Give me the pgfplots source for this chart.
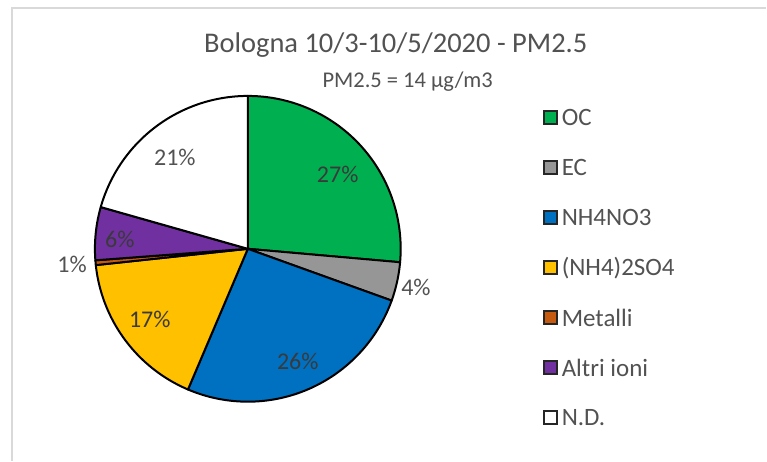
\documentclass[border=0pt]{standalone}
\usepackage{pgfplots}
\pgfplotsset{compat=1.18}
\usepackage{fontspec}
\setmainfont{Carlito}
\definecolor{txt}{HTML}{525252}
\definecolor{txtd}{HTML}{3A3A3A}
\definecolor{cOC}{HTML}{00B050}
\definecolor{cEC}{HTML}{969696}
\definecolor{cNH}{HTML}{0070C0}
\definecolor{cSO}{HTML}{FFC000}
\definecolor{cME}{HTML}{C55A11}
\definecolor{cAI}{HTML}{7030A0}
\definecolor{cND}{HTML}{FFFFFF}
\definecolor{frame}{HTML}{D9D9D9}
% data (percent of PM2.5)
\def\vOC{26.4}
\def\vEC{4.1}
\def\vNH{25.9}
\def\vSO{16.9}
\def\vME{0.5}
\def\vAI{5.6}
\def\vND{20.6}
\pgfmathsetmacro\bA{90}
\pgfmathsetmacro\bB{\bA-3.6*\vOC}
\pgfmathsetmacro\bC{\bB-3.6*\vEC}
\pgfmathsetmacro\bD{\bC-3.6*\vNH}
\pgfmathsetmacro\bE{\bD-3.6*\vSO}
\pgfmathsetmacro\bF{\bE-3.6*\vME}
\pgfmathsetmacro\bG{\bF-3.6*\vAI}
\pgfmathsetmacro\bH{\bG-3.6*\vND}
\newcommand\slice[3]{\filldraw[fill=#1, draw=black, line width=2pt, line join=round] (axis cs:0,0) -- plot[domain=#2:#3, samples=80] ({cos(\x)},{sin(\x)}) -- cycle;}
\newcommand\legsq[3]{%
  \filldraw[fill=#1, draw=black!85, line width=2pt] (544pt,{461pt-#2pt-6.5pt}) rectangle ++(13pt,13pt);
  \node[anchor=west, inner sep=0pt, text=txt, font=\fontsize{25}{28}\selectfont] at (562pt,{461pt-#2pt}) {#3};}
\begin{document}
\begin{tikzpicture}
\fill[white] (0pt,0pt) rectangle (767pt,461pt);
\draw[frame, line width=1.2pt] (12pt,0pt) -- (12pt,453pt) -- (767pt,453pt);
\begin{axis}[
  at={(95pt,59pt)}, anchor=south west,
  scale only axis, width=306pt, height=306pt,
  xmin=-1, xmax=1, ymin=-1, ymax=1,
  hide axis, clip=false]
\slice{cOC}{\bA}{\bB}
\slice{cEC}{\bB}{\bC}
\slice{cNH}{\bC}{\bD}
\slice{cSO}{\bD}{\bE}
\slice{cME}{\bE}{\bF}
\slice{cAI}{\bF}{\bG}
\slice{cND}{\bG}{\bH}
\begin{scope}[every node/.style={font=\fontsize{24}{28}\selectfont, inner sep=0pt}]
\node[text=txtd] at (axis cs:0.588,0.484) {27\%};
\node[text=txt] at (axis cs:1.10,-0.255) {4\%};
\node[text=txtd] at (axis cs:0.327,-0.739) {26\%};
\node[text=txtd] at (axis cs:-0.641,-0.464) {17\%};
\node[text=txt] at (axis cs:-1.15,-0.105) {1\%};
\node[text=txtd] at (axis cs:-0.837,0.059) {6\%};
\node[text=txt] at (axis cs:-0.477,0.595) {21\%};
\end{scope}
\end{axis}
\node[text=txt, font=\fontsize{28.5}{32}\selectfont, inner sep=0pt] at (396pt,416pt) {Bologna 10/3-10/5/2020 - PM2.5};
\node[text=txt, font=\fontsize{22.5}{26}\selectfont, inner sep=0pt] at (408pt,379pt) {PM2.5 = 14 µg/m3};
\legsq{cOC}{118}{OC}
\legsq{cEC}{168}{EC}
\legsq{cNH}{218}{NH4NO3}
\legsq{cSO}{268}{(NH4)2SO4}
\legsq{cME}{318}{Metalli}
\legsq{cAI}{368}{Altri ioni}
\legsq{cND}{418}{N.D.}
\end{tikzpicture}
\end{document}
